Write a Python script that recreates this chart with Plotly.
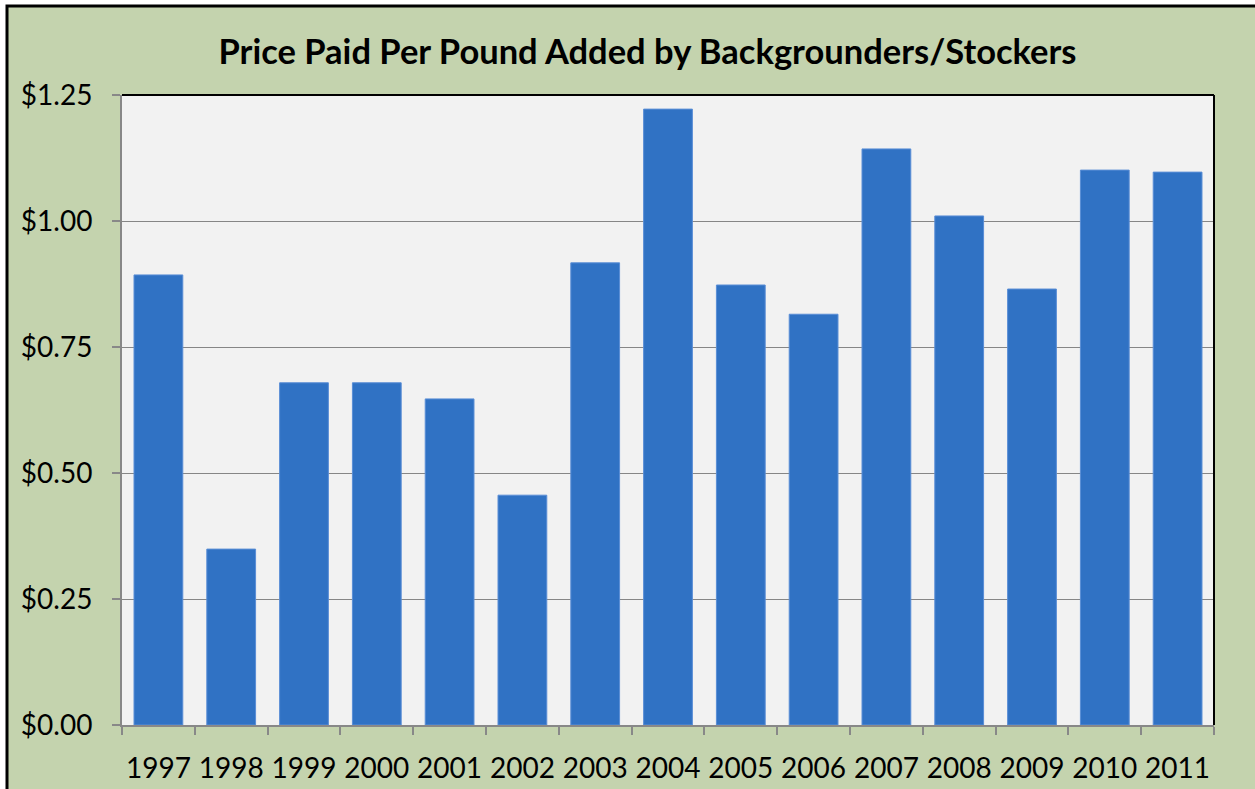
import plotly.graph_objects as go

years = ["1997", "1998", "1999", "2000", "2001", "2002", "2003", "2004",
         "2005", "2006", "2007", "2008", "2009", "2010", "2011"]
prices = [0.893, 0.349, 0.679, 0.679, 0.647, 0.456, 0.917, 1.222,
          0.873, 0.815, 1.143, 1.010, 0.865, 1.101, 1.097]
y_ticks = [0, 0.25, 0.5, 0.75, 1.0, 1.25]
y_tick_labels = ["$0.00", "$0.25", "$0.50", "$0.75", "$1.00", "$1.25"]

W, H = 1255, 789
L, R, T, B = 122, 1214, 95, 725
font = "Lato, Open Sans, sans-serif"

fig = go.Figure(go.Bar(
    x=years, y=prices,
    marker=dict(color="#3072C4", line=dict(color="#5A8ED6", width=1)),
    width=0.67,
))

def px_x(p):
    return (p - L) / (R - L)

def px_y(p):
    return (B - p) / (B - T)

fig.update_layout(
    width=W, height=H,
    margin=dict(l=L, r=W - R, t=T, b=H - B, autoexpand=False),
    paper_bgcolor="white",
    plot_bgcolor="#F2F2F2",
    showlegend=False,
    title=dict(text="<b>Price Paid Per Pound Added by Backgrounders/Stockers</b>",
               x=647.5 / W, xanchor="center", xref="container",
               y=1 - 52 / H, yanchor="middle",
               font=dict(family=font, size=34.5, color="black")),
    font=dict(family=font, color="black"),
    bargap=0.33,
    shapes=[
        dict(type="rect", xref="paper", yref="paper", layer="below",
             x0=px_x(7), x1=px_x(W + 10), y0=px_y(H + 10), y1=px_y(6),
             fillcolor="#C4D3AE", line=dict(color="black", width=3)),
        dict(type="rect", xref="paper", yref="paper", layer="below",
             x0=0, x1=1, y0=0, y1=1,
             fillcolor="#F2F2F2", line=dict(width=0)),
        dict(type="line", xref="paper", yref="paper",
             x0=0, x1=1, y0=1, y1=1, line=dict(color="black", width=2)),
        dict(type="line", xref="paper", yref="paper",
             x0=1, x1=1, y0=0, y1=1, line=dict(color="black", width=2)),
    ],
)

fig.update_xaxes(
    showline=True, linecolor="#888888", linewidth=2,
    ticks="outside", ticklen=8, tickcolor="#888888", tickwidth=2,
    tickson="boundaries", ticklabelstandoff=17, tickangle=0,
    automargin=False,
    tickfont=dict(family=font, size=28, color="black"),
    showgrid=False,
)
fig.update_yaxes(
    range=[0, 1.25], tickvals=y_ticks, ticktext=y_tick_labels,
    showline=True, linecolor="#888888", linewidth=2,
    ticks="outside", ticklen=8, tickcolor="#888888", tickwidth=2,
    ticklabelstandoff=14, automargin=False,
    tickfont=dict(family=font, size=28, color="black"),
    showgrid=True, gridcolor="#868686", gridwidth=1,
    zeroline=False,
)

fig.write_html("out.html", config={"displayModeBar": False},
               post_script="document.body.style.margin='0';")
